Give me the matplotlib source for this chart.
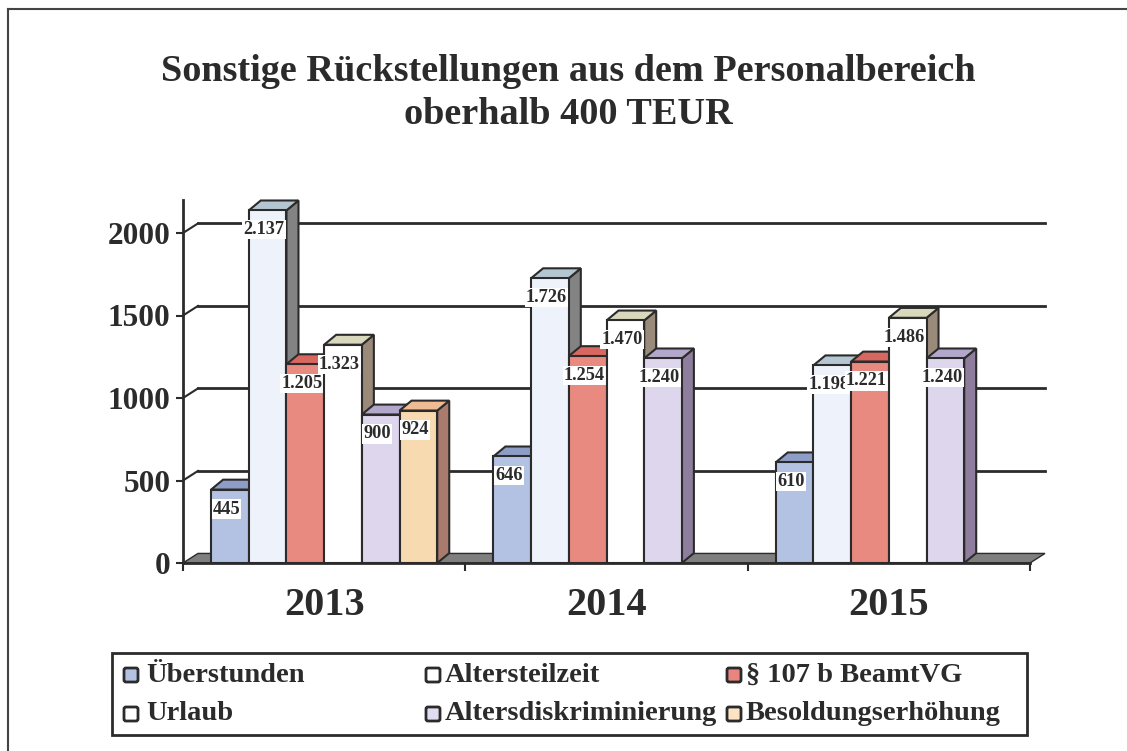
import matplotlib
matplotlib.use('Agg')
import matplotlib.pyplot as plt
from matplotlib.patches import Polygon, Rectangle, FancyBboxPatch

plt.rcParams['font.family'] = ['Liberation Serif', 'DejaVu Serif']
plt.rcParams['font.weight'] = 'bold'

# data (TEUR), None = no bar
years = ['2013', '2014', '2015']
series = ['Überstunden', 'Altersteilzeit', '§ 107 b BeamtVG',
          'Urlaub', 'Altersdiskriminierung', 'Besoldungserhöhung']
ueberstunden = [445, 646, 610]
altersteilzeit = [2137, 1726, 1198]
beamtvg = [1205, 1254, 1221]
urlaub = [1323, 1470, 1486]
altersdiskr = [900, 1240, 1240]
besoldung = [924, None, None]
values = [ueberstunden, altersteilzeit, beamtvg, urlaub, altersdiskr, besoldung]

# (front, top, side) colours per series
colors = [('#b3c2e3', '#8e9dc6', '#7a88b0'),
          ('#eef3fb', '#b5c6d3', '#838383'),
          ('#e88a80', '#d7675f', '#b5544e'),
          ('#ffffff', '#d9d8bd', '#9a8a7a'),
          ('#ddd6ec', '#b3a8cb', '#8f7d9d'),
          ('#f8dab0', '#eebb95', '#a97b6c')]
legend_fill = ['#b3c2e3', '#ffffff', '#e8857e', '#ffffff', '#e2dcf0', '#fbe3c4']

INK = '#2b2b2b'
W, H = 1127, 751

fig = plt.figure(figsize=(W / 100, H / 100), dpi=100)

# overlay in pixel coordinates for frame, title and legend
lay = fig.add_axes([0, 0, 1, 1])
lay.set_xlim(0, W)
lay.set_ylim(H, 0)
lay.axis('off')
lay.plot([8, W], [9, 9], color='#444444', lw=1.5)
lay.plot([8, 8], [9, H], color='#444444', lw=1.5)
lay.text(568, 81, 'Sonstige Rückstellungen aus dem Personalbereich',
         ha='center', va='baseline', fontsize=27.5, color=INK)
lay.text(568, 124, 'oberhalb 400 TEUR',
         ha='center', va='baseline', fontsize=27.5, color=INK)

# main plot area
ax = fig.add_axes([183 / W, (H - 563) / H, (1030 - 183) / W, (563 - 200) / H])
ax.set_xlim(-0.5, 2.5)
ax.set_ylim(0, 2200)
ax.patch.set_alpha(0)
for s in ['top', 'right']:
    ax.spines[s].set_visible(False)
for s in ['left', 'bottom']:
    ax.spines[s].set_color(INK)
    ax.spines[s].set_linewidth(2)
    ax.spines[s].set_zorder(30)

WX, WY = 0.053, 58      # back wall offset
DX, DY = 0.0425, 60     # bar depth
BW = 0.1335             # bar width

# floor and back wall grid
ax.add_patch(Polygon([(-0.5, 0), (2.5, 0), (2.5 + WX, WY), (-0.5 + WX, WY)],
                     closed=True, facecolor='#7f7f7f', edgecolor=INK, lw=1,
                     zorder=1, clip_on=False))
ticks = [0, 500, 1000, 1500, 2000]
for v in ticks[1:]:
    ax.plot([-0.5 + WX, 2.5 + WX], [v + WY, v + WY], color=INK, lw=2,
            zorder=1, clip_on=False)
    ax.plot([-0.5, -0.5 + WX], [v, v + WY], color=INK, lw=1.5,
            zorder=1, clip_on=False)

ax.set_yticks(ticks)
ax.set_yticklabels([str(t) for t in ticks])
ax.tick_params(axis='y', direction='out', length=5, width=1.5, color=INK,
               labelsize=22.5, labelcolor=INK, pad=4)
ax.set_xticks([-0.5, 0.5, 1.5, 2.5])
ax.set_xticklabels([])
ax.set_xticks([0, 1, 2], minor=True)
ax.set_xticklabels(years, minor=True)
ax.tick_params(axis='x', which='major', direction='out', length=6, width=1.5, color=INK)
ax.tick_params(axis='x', which='minor', length=0, labelsize=29, labelcolor=INK, pad=17)

for i, (vals, (cf, ct, cs)) in enumerate(zip(values, colors)):
    z = 3 + 2 * i
    for g, v in enumerate(vals):
        if v is None:
            continue
        x0 = g + (i - 3) * BW
        x1 = x0 + BW
        ax.add_patch(Polygon([(x1, 0), (x1 + DX, DY), (x1 + DX, v + DY), (x1, v)],
                             closed=True, facecolor=cs, edgecolor=INK, lw=1.5,
                             zorder=z, clip_on=False))
        ax.add_patch(Polygon([(x0, v), (x0 + DX, v + DY), (x1 + DX, v + DY), (x1, v)],
                             closed=True, facecolor=ct, edgecolor=INK, lw=1.5,
                             zorder=z, clip_on=False))
    xs = [g + (i - 3) * BW for g, v in enumerate(vals) if v is not None]
    hs = [v for v in vals if v is not None]
    ax.bar(xs, hs, width=BW, align='edge', color=cf, edgecolor=INK, lw=1.5, zorder=z)
    for x, v in zip(xs, hs):
        ax.annotate(f'{v / 1000:.3f}' if v >= 1000 else str(v),
                    (x + BW / 2, v), xytext=(-2.5, -14), textcoords='offset points',
                    ha='center', va='center', fontsize=13.2, color=INK, zorder=z + 1,
                    bbox=dict(boxstyle='square,pad=0.06', fc='white', ec='none'))

# legend box
lay.add_patch(Rectangle((112, 653), 1027 - 112, 735 - 653, fill=False,
                        edgecolor=INK, lw=2))
cols = [(131, 146), (433, 445), (734, 746)]
rows = [675, 714]
for k, name in enumerate(series):
    r, c = divmod(k, 3)
    mx, tx = cols[c]
    y = rows[r]
    lay.add_patch(FancyBboxPatch((mx - 7, y - 7), 14, 14,
                                 boxstyle='round,pad=0,rounding_size=2',
                                 facecolor=legend_fill[k], edgecolor=INK, lw=2))
    lay.text(tx, y, name, ha='left', va='center', fontsize=20.5, color=INK)

fig.savefig('out.png', dpi=100)
